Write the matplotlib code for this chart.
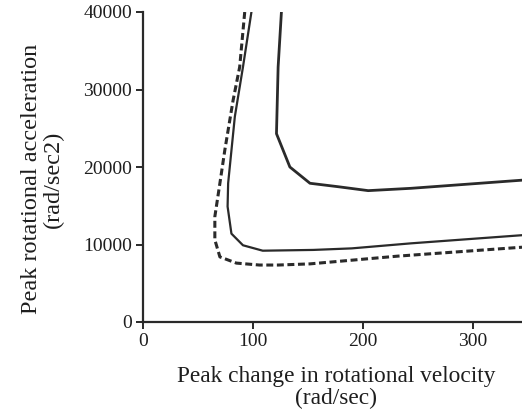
import matplotlib
matplotlib.use("Agg")
import matplotlib.pyplot as plt

plt.rcParams['font.family'] = ['Liberation Serif', 'DejaVu Serif']
plt.rcParams['lines.scale_dashes'] = False

# Data
dashed_x = [92.6, 88, 82, 74.5, 70, 65.4, 65.4, 70, 85, 106, 123, 152, 232, 345]
dashed_y = [40000, 32900, 28600, 22200, 17900, 13600, 10600, 8400, 7600, 7350, 7350, 7500, 8500, 9650]

mid_x = [98.7, 91, 83.6, 77.5, 77, 80.5, 91, 109, 155, 190, 244, 345]
mid_y = [40000, 32900, 26500, 17900, 14900, 11400, 9900, 9200, 9300, 9500, 10150, 11200]

out_x = [126, 123, 121.5, 133.7, 152, 178, 205, 244, 345]
out_y = [40000, 32900, 24300, 20000, 17900, 17450, 16950, 17250, 18300]

x_ticks = [0, 100, 200, 300]
y_ticks = [0, 10000, 20000, 30000, 40000]

W, H = 522, 416
fig = plt.figure(figsize=(W/100, H/100), dpi=100)
ax = fig.add_axes([143/W, (H-322)/H, (W-143)/W, (322-12)/H])
col = '#2a2a2a'
txtcol = '#1e1e1e'
ax.plot(dashed_x, dashed_y, color=col, lw=2.2, dashes=(5, 2.6), solid_capstyle='butt')
ax.plot(mid_x, mid_y, color=col, lw=1.6)
ax.plot(out_x, out_y, color=col, lw=2.0)

ax.set_xlim(0, 345)
ax.set_ylim(0, 40000)
ax.set_xticks(x_ticks)
ax.set_yticks(y_ticks)
ax.set_xticklabels([str(v) for v in x_ticks])
ax.set_yticklabels([str(v) for v in y_ticks])
for s in ['top', 'right']:
    ax.spines[s].set_visible(False)
for s in ['left', 'bottom']:
    ax.spines[s].set_linewidth(1.6)
    ax.spines[s].set_color(col)
ax.tick_params(direction='out', length=5, width=1.4, color=col, labelsize=14, labelcolor=txtcol, pad=3)

fig.text(336/W, (H-387.5)/H, 'Peak change in rotational velocity\n(rad/sec)', fontsize=16.8,
         color=txtcol, ha='center', va='center', multialignment='center', linespacing=1.08)
fig.text(42.5/W, (H-179)/H, 'Peak rotational acceleration\n(rad/sec2)', fontsize=17.5, rotation=90,
         color=txtcol, ha='center', va='center', multialignment='center', linespacing=1.05)

fig.savefig('out.png', dpi=100)
